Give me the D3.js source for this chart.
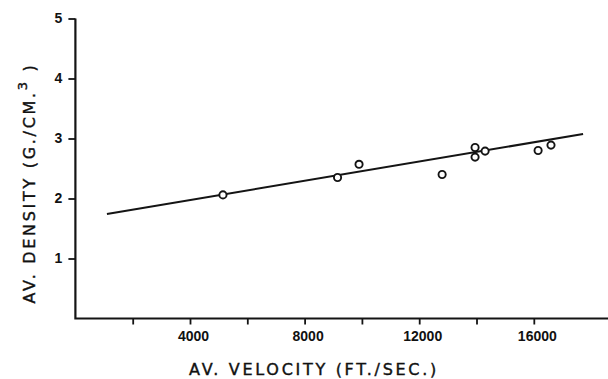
<!DOCTYPE html>
<html>
<head>
<meta charset="utf-8">
<script src="https://cdn.jsdelivr.net/npm/d3@7"></script>
<style>
	body { margin: 0; background: #fff; }
	svg { display: block; }
	.tick text { font-family: "Liberation Sans", Arial, sans-serif; font-weight: bold; fill: #111; }
	.title { font-family: "DejaVu Sans", sans-serif; fill: #111; stroke: #111; stroke-width: 0.4; }
</style>
</head>
<body>
<svg id="chart" width="608" height="379"></svg>
<script>
// measured points: velocity (ft/sec) and density (g/cm3)
var velocity = [5150, 9150, 9900, 12800, 13950, 13950, 14300, 16150, 16600];
var density = [2.06, 2.35, 2.57, 2.40, 2.85, 2.69, 2.79, 2.80, 2.89];

// fitted line, end points
var fitX = [1100, 17720];
var fitY = [1.74, 3.075];

var xTicks = [2000, 4000, 6000, 8000, 10000, 12000, 14000, 16000];
var xLabels = [4000, 8000, 12000, 16000];
var yTicks = [1, 2, 3, 4, 5];

var svg = d3.select("#chart");

var x = d3.scaleLinear().domain([0, 18600]).range([75.4, 608.3]);
var y = d3.scaleLinear().domain([0, 5]).range([318.5, 18.5]);

var ink = "#141414";

// x axis
var xAxis = d3.axisBottom(x)
	.tickValues(xTicks)
	.tickSize(6)
	.tickSizeOuter(0)
	.tickFormat(function(d) { return xLabels.indexOf(d) >= 0 ? d : ""; });

var gx = svg.append("g")
	.attr("transform", "translate(0," + y(0) + ")")
	.call(xAxis);
gx.select(".domain").remove();
gx.selectAll(".tick line").attr("stroke", ink).attr("stroke-width", 1.8);
gx.selectAll(".tick text").attr("font-size", 14).attr("dy", "1.05em").attr("y", 8).attr("dx", 3);

// y axis
var yAxis = d3.axisLeft(y)
	.tickValues(yTicks)
	.tickSize(7)
	.tickSizeOuter(0)
	.tickFormat(d3.format("d"));

var gy = svg.append("g")
	.attr("transform", "translate(" + x(0) + ",0)")
	.call(yAxis);
gy.select(".domain").remove();
gy.selectAll(".tick line").attr("stroke", ink).attr("stroke-width", 1.8);
gy.selectAll(".tick text").attr("font-size", 14).attr("x", -13);

// axis lines
svg.append("path")
	.attr("d", "M" + x(0) + "," + y(5) + "V" + y(0) + "H" + x(18600))
	.attr("fill", "none")
	.attr("stroke", ink)
	.attr("stroke-width", 2.2);

// fit line
svg.append("line")
	.attr("x1", x(fitX[0])).attr("y1", y(fitY[0]))
	.attr("x2", x(fitX[1])).attr("y2", y(fitY[1]))
	.attr("stroke", ink)
	.attr("stroke-width", 2);

// points
svg.selectAll("circle.pt").data(velocity)
	.enter().append("circle")
	.attr("class", "pt")
	.attr("cx", function(d) { return x(d); })
	.attr("cy", function(d, i) { return y(density[i]); })
	.attr("r", 3.6)
	.attr("fill", "#fff")
	.attr("stroke", ink)
	.attr("stroke-width", 1.9);

// titles
svg.append("text")
	.attr("class", "title")
	.attr("x", 314)
	.attr("y", 375)
	.attr("text-anchor", "middle")
	.attr("font-size", 16)
	.attr("letter-spacing", 2.7)
	.text("AV. VELOCITY (FT./SEC.)");

var yt = svg.append("text")
	.attr("class", "title")
	.attr("transform", "translate(35,183) rotate(-90)")
	.attr("text-anchor", "middle")
	.attr("font-size", 16)
	.attr("letter-spacing", 2.7);
yt.append("tspan").text("AV. DENSITY (G./CM.");
yt.append("tspan").attr("dy", -8).attr("font-size", 13).text("3");
yt.append("tspan").attr("dy", 8).text(" )");
</script>
</body>
</html>
